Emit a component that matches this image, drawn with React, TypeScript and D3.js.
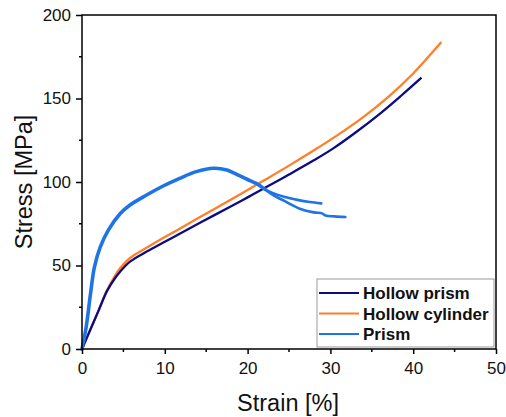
import React, { useRef, useEffect } from 'react';
import * as d3 from 'd3';

// data (strain %, stress MPa)
const hollowPrismStrain = [0, 1, 2, 3, 4, 4.6, 5.8, 8, 10, 11.8, 14.25, 17.9, 20, 22.1, 25, 28, 30.3, 33, 36, 38.5, 41];
const hollowPrismStress = [0, 11.5, 23, 34.5, 42.5, 46.3, 52.3, 58.8, 64.2, 69, 75.6, 85.2, 90.8, 96.5, 104.5, 113, 120, 129.5, 141, 151.5, 162.5];

const hollowCylStrain = [0, 1, 2, 3, 4, 4.6, 5.8, 8, 10, 11.8, 14.25, 17.9, 20, 22, 25, 28.5, 31, 34, 37, 40, 43.4];
const hollowCylStress = [0, 11.5, 23, 35, 44, 48.3, 54.5, 61.2, 67, 72, 79, 89.2, 95.2, 101, 109.8, 120.5, 128.5, 139, 151, 165, 183.8];

const prismStrain = [0, 0.5, 1, 1.5, 2.2, 3.2, 4.6, 5.8, 7.8, 9.8, 11.8, 13.8, 15.9, 17.5, 18.3, 20, 21.1, 22.1];
const prismStress = [0, 13, 32, 49, 61, 71.3, 81, 86.2, 92.2, 97.6, 102.2, 106.2, 108.2, 107.2, 105.5, 101.5, 99, 95.6];

const prismUpperStrain = [22.1, 23, 24.5, 26, 27.5, 28.9];
const prismUpperStress = [95.6, 93.5, 91, 89.3, 88, 87.2];

const prismLowerStrain = [22.1, 23, 24.5, 26.3, 28, 29, 29.4, 30.5, 31.8];
const prismLowerStress = [95.6, 92.5, 88.5, 84, 81.8, 81.2, 80, 79.4, 79];

const xTicks = [0, 10, 20, 30, 40, 50];
const yTicks = [0, 50, 100, 150, 200];

const legendNames = ['Hollow prism', 'Hollow cylinder', 'Prism'];
const colors = ['#0b0b85', '#ff7f27', '#1e74e6'];

type Pt = [number, number];
const zip = (xs: number[], ys: number[]): Pt[] => xs.map((x, i) => [x, ys[i]]);

const App = () => {
  const svgRef = useRef<SVGSVGElement>(null);
  const width = 506;
  const height = 417;

  useEffect(() => {
    const svg = d3.select(svgRef.current);
    svg.selectAll('*').remove();

    const margin = { top: 15, right: 10, bottom: 68, left: 82 };
    const x = d3.scaleLinear().domain([0, 50]).range([margin.left, width - margin.right]);
    const y = d3.scaleLinear().domain([0, 200]).range([height - margin.bottom, margin.top]);
    const font = 'Arial, "Liberation Sans", sans-serif';

    const line = d3
      .line<Pt>()
      .x(d => x(d[0]))
      .y(d => y(d[1]))
      .curve(d3.curveCatmullRom.alpha(0.5));

    // curves
    const g = svg.append('g');
    g.append('path')
      .attr('d', line(zip(hollowCylStrain, hollowCylStress)))
      .attr('fill', 'none')
      .attr('stroke', colors[1])
      .attr('stroke-width', 2.3);
    g.append('path')
      .attr('d', line(zip(hollowPrismStrain, hollowPrismStress)))
      .attr('fill', 'none')
      .attr('stroke', colors[0])
      .attr('stroke-width', 2.3);
    [
      zip(prismStrain, prismStress),
      zip(prismUpperStrain, prismUpperStress),
      zip(prismLowerStrain, prismLowerStress),
    ].forEach((pts, i) => {
      g.append('path')
        .attr('d', line(pts))
        .attr('fill', 'none')
        .attr('stroke', colors[2])
        .attr('stroke-width', i === 0 ? 3.6 : 2.6)
        .attr('stroke-linecap', 'round');
    });

    // frame
    svg
      .append('rect')
      .attr('x', x(0))
      .attr('y', y(200))
      .attr('width', x(50) - x(0))
      .attr('height', y(0) - y(200))
      .attr('fill', 'none')
      .attr('stroke', '#000')
      .attr('stroke-width', 1.5);

    // axes
    const xMinor = d3.range(5, 50, 10);
    const yMinor = d3.range(25, 200, 50);

    const xAxis = svg.append('g').attr('transform', `translate(0,${y(0)})`);
    xAxis
      .call(d3.axisBottom(x).tickValues(xTicks).tickSize(5).tickPadding(8))
      .call(s => s.select('.domain').remove());
    xAxis.selectAll('line').attr('stroke-width', 1.5);
    xAxis.selectAll('text').attr('font-size', 17).attr('font-family', font).attr('fill', '#111');
    xAxis
      .selectAll('.minor')
      .data(xMinor)
      .enter()
      .append('line')
      .attr('x1', d => x(d))
      .attr('x2', d => x(d))
      .attr('y1', 0)
      .attr('y2', 3)
      .attr('stroke', '#000')
      .attr('stroke-width', 1.5);

    const yAxis = svg.append('g').attr('transform', `translate(${x(0)},0)`);
    yAxis
      .call(d3.axisLeft(y).tickValues(yTicks).tickSize(6).tickPadding(5))
      .call(s => s.select('.domain').remove());
    yAxis.selectAll('line').attr('stroke-width', 1.5);
    yAxis.selectAll('text').attr('font-size', 17).attr('font-family', font).attr('fill', '#111');
    yAxis
      .selectAll('.minor')
      .data(yMinor)
      .enter()
      .append('line')
      .attr('y1', d => y(d))
      .attr('y2', d => y(d))
      .attr('x1', 0)
      .attr('x2', -3)
      .attr('stroke', '#000')
      .attr('stroke-width', 1.5);

    // axis titles
    svg
      .append('text')
      .attr('x', 288)
      .attr('y', 411)
      .attr('text-anchor', 'middle')
      .attr('font-size', 23.5)
      .attr('font-family', font)
      .attr('fill', '#111')
      .text('Strain [%]');
    svg
      .append('text')
      .attr('transform', `translate(32,182) rotate(-90)`)
      .attr('text-anchor', 'middle')
      .attr('font-size', 23.5)
      .attr('font-family', font)
      .attr('fill', '#111')
      .text('Stress [MPa]');

    // legend
    const lg = svg.append('g').attr('transform', 'translate(317,279)');
    lg.append('rect')
      .attr('width', 177)
      .attr('height', 68)
      .attr('fill', '#fff')
      .attr('stroke', '#999')
      .attr('stroke-width', 1);
    legendNames.forEach((name, i) => {
      const cy = 14 + i * 20.5;
      lg.append('line')
        .attr('x1', 2)
        .attr('x2', 42)
        .attr('y1', cy)
        .attr('y2', cy)
        .attr('stroke', colors[i])
        .attr('stroke-width', 2);
      lg.append('text')
        .attr('x', 46)
        .attr('y', cy + 6)
        .attr('font-size', 17)
        .attr('font-weight', 'bold')
        .attr('font-family', font)
        .attr('fill', '#111')
        .text(name);
    });
  }, []);

  return (
    <svg
      ref={svgRef}
      width={width}
      height={height}
      style={{ position: 'absolute', left: 0, top: 0, background: '#fff' }}
    />
  );
};

export default App;
